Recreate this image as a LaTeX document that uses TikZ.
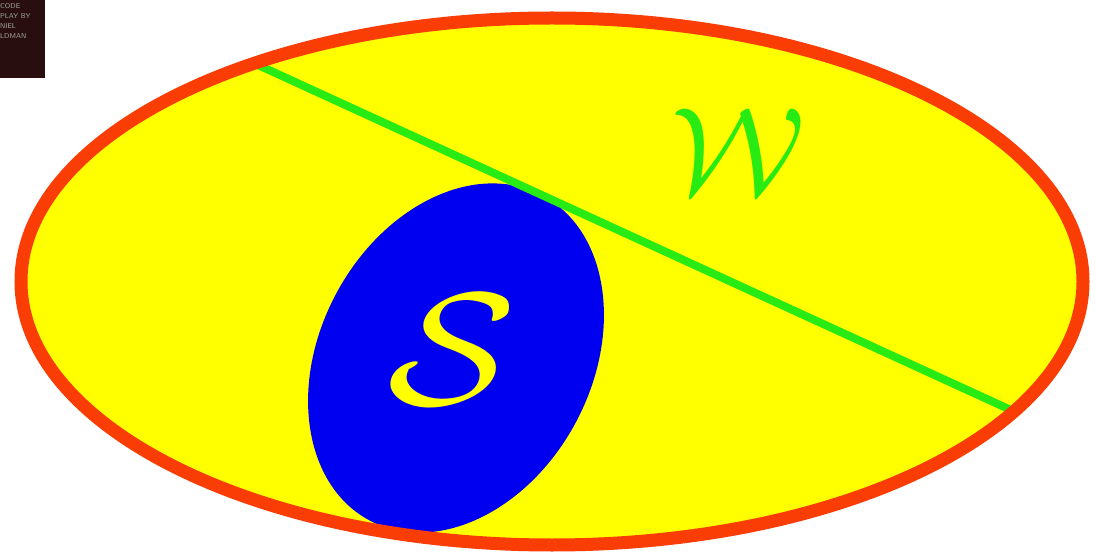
\documentclass[tikz,border=0pt]{standalone}
\usepackage{graphicx}
\definecolor{rimred}{RGB}{250,60,5}
\definecolor{fillyellow}{RGB}{255,255,0}
\definecolor{linegreen}{RGB}{40,235,20}
\definecolor{setblue}{RGB}{0,0,240}
\definecolor{boxdark}{RGB}{40,14,14}
\tikzset{
  worldfill/.style={fill=fillyellow},
  worldrim/.style={draw=rimred, line width=13pt},
  subset/.style={fill=setblue},
  cut/.style={draw=linegreen, line width=8pt},
  biglabel/.style={inner sep=0pt},
}
\begin{document}
\begin{tikzpicture}[x=1pt,y=-1pt]
\useasboundingbox (0,0) rectangle (1096,556);
\fill[white] (0,0) rectangle (1096,556);
% watermark box
\fill[boxdark] (0,0) rectangle (45,78);
\node[anchor=north west, inner sep=0pt, text=gray!70, font=\fontsize{7}{10}\selectfont\sffamily, align=left] (wm) at (0,3) {CODE\\PLAY BY\\NIEL\\LDMAN};
% outer ellipse W
\fill[worldfill] (552,281.5) ellipse [x radius=531, y radius=263.5];
\node[biglabel] (W) at (738,152) {\color{linegreen}\scalebox{12.5}{$\mathcal{W}$}};
% subset S
\fill[subset, rotate around={-28:(456,358)}] (456,358) ellipse [x radius=136, y radius=184];
\node[biglabel] (S) at (452,350) {\color{fillyellow}\scalebox{19}[16]{$\mathcal{S}$}};
% green cut line
\coordinate (c1) at (258,65);
\coordinate (c2) at (1013,411);
\draw[cut] (c1) -- (c2);
% rim on top
\draw[worldrim] (552,281.5) ellipse [x radius=531, y radius=263.5];
\end{tikzpicture}
\end{document}
